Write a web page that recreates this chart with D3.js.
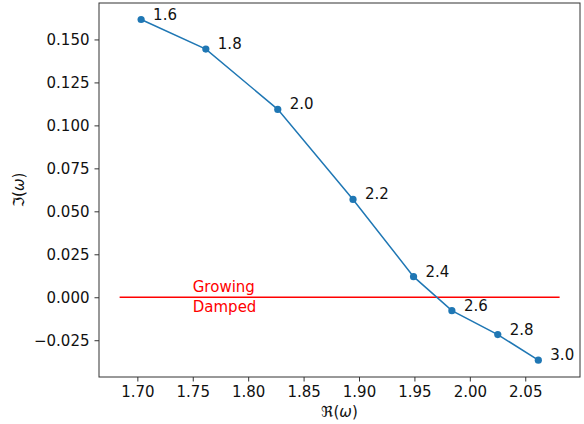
<!DOCTYPE html>
<html>
<head>
<meta charset="utf-8">
<script src="https://cdn.jsdelivr.net/npm/d3@7"></script>
<style>
  body { margin: 0; background: #fff; }
  svg { display: block; font-family: "DejaVu Sans", sans-serif; }
</style>
</head>
<body>
<svg id="chart" width="584" height="424"></svg>
<script>
// Wavenumber labels for each eigenvalue point
const kLabels = ["1.6", "1.8", "2.0", "2.2", "2.4", "2.6", "2.8", "3.0"];
// Real part of ω
const reOmega = [1.7034, 1.7618, 1.8267, 1.8946, 1.9492, 1.9838, 2.0252, 2.0618];
// Imaginary part of ω
const imOmega = [0.1616, 0.1444, 0.1093, 0.0569, 0.0120, -0.0078, -0.0217, -0.0366];
// Axis ticks
const xTicks = [1.70, 1.75, 1.80, 1.85, 1.90, 1.95, 2.00, 2.05];
const yTicks = [-0.025, 0.000, 0.025, 0.050, 0.075, 0.100, 0.125, 0.150];
// Stability boundary line extent and region labels
const boundaryX = [1.684, 2.081];
const regionLabelX = 1.75;

const svg = d3.select("#chart");
const m = { left: 99, right: 580, top: 3, bottom: 377 };

const x = d3.scaleLinear().domain([1.6654, 2.0994]).range([m.left, m.right]);
const y = d3.scaleLinear().domain([-0.0464, 0.1712]).range([m.bottom, m.top]);

const fmtMinus = s => s.replace("-", "\u2212");

// x axis
const xAxis = d3.axisBottom(x).tickValues(xTicks).tickSize(4.5).tickPadding(5)
  .tickFormat(d => d3.format(".2f")(d));
const gx = svg.append("g").attr("transform", `translate(0,${m.bottom})`).call(xAxis);
gx.select(".domain").remove();
gx.selectAll("line").attr("stroke", "#333");
gx.selectAll("text").attr("font-size", 15).attr("fill", "#111")
  .attr("font-family", "DejaVu Sans");

// y axis
const yAxis = d3.axisLeft(y).tickValues(yTicks).tickSize(4.5).tickPadding(5)
  .tickFormat(d => fmtMinus(d3.format(".3f")(d)));
const gy = svg.append("g").attr("transform", `translate(${m.left},0)`).call(yAxis);
gy.select(".domain").remove();
gy.selectAll("line").attr("stroke", "#333");
gy.selectAll("text").attr("font-size", 15).attr("fill", "#111")
  .attr("font-family", "DejaVu Sans");

// frame
svg.append("rect")
  .attr("x", m.left).attr("y", m.top)
  .attr("width", m.right - m.left).attr("height", m.bottom - m.top)
  .attr("fill", "none").attr("stroke", "#333").attr("stroke-width", 1);

// axis labels
const xl = svg.append("text").attr("x", (m.left + m.right) / 2).attr("y", 417)
  .attr("text-anchor", "middle").attr("font-size", 15).attr("fill", "#111");
xl.append("tspan").text("\u211C(");
xl.append("tspan").attr("font-style", "italic").text("\u03C9");
xl.append("tspan").text(")");

const yl = svg.append("text")
  .attr("transform", `translate(24,${(m.top + m.bottom) / 2}) rotate(-90)`)
  .attr("text-anchor", "middle").attr("font-size", 15).attr("fill", "#111");
yl.append("tspan").text("\u2111(");
yl.append("tspan").attr("font-style", "italic").text("\u03C9");
yl.append("tspan").text(")");

// stability boundary
svg.append("line")
  .attr("x1", x(boundaryX[0])).attr("x2", x(boundaryX[1]))
  .attr("y1", y(0)).attr("y2", y(0))
  .attr("stroke", "red").attr("stroke-width", 1.5);

svg.append("text").attr("x", x(regionLabelX)).attr("y", y(0) - 5)
  .attr("font-size", 15).attr("fill", "red").text("Growing");
svg.append("text").attr("x", x(regionLabelX)).attr("y", y(0) + 15)
  .attr("font-size", 15).attr("fill", "red").text("Damped");

// eigenvalue track
const pts = reOmega.map((r, i) => ({ r, im: imOmega[i], k: kLabels[i] }));
const line = d3.line().x(d => x(d.r)).y(d => y(d.im));
svg.append("path").datum(pts).attr("d", line)
  .attr("fill", "none").attr("stroke", "#1f77b4").attr("stroke-width", 1.5);

svg.selectAll("circle.pt").data(pts).join("circle")
  .attr("class", "pt")
  .attr("cx", d => x(d.r)).attr("cy", d => y(d.im)).attr("r", 3.6)
  .attr("fill", "#1f77b4");

svg.selectAll("text.lbl").data(pts).join("text")
  .attr("class", "lbl")
  .attr("x", d => x(d.r) + 12).attr("y", d => y(d.im))
  .attr("font-size", 15).attr("fill", "#111")
  .text(d => d.k);
</script>
</body>
</html>
